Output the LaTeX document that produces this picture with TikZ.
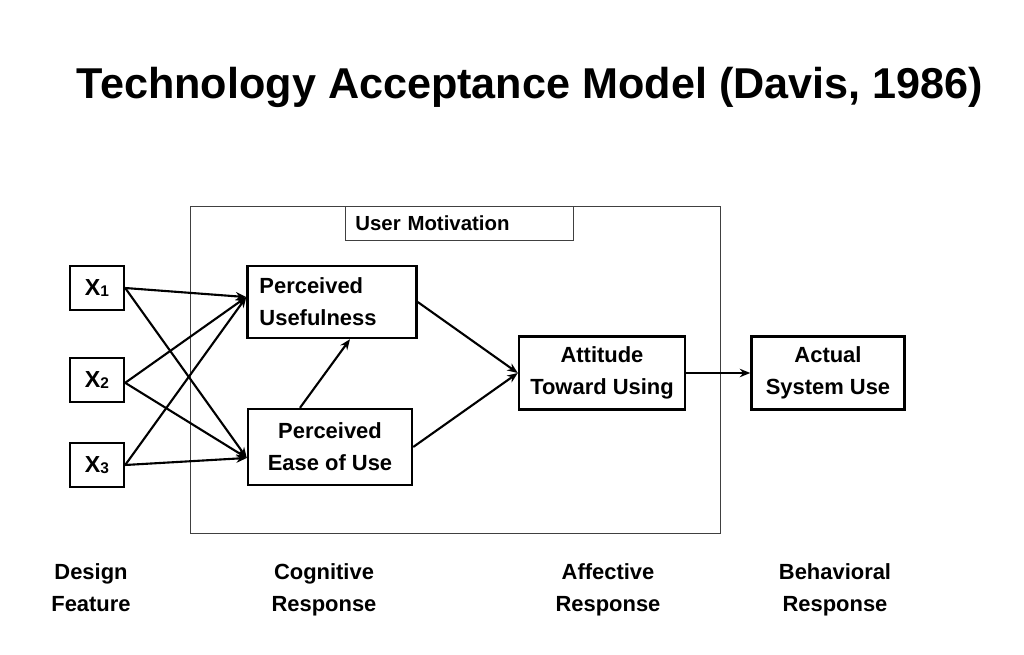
\documentclass[tikz,border=0pt]{standalone}
\usepackage{fontspec}
\setmainfont{Liberation Sans}
\usetikzlibrary{arrows.meta}
\tikzset{>={Stealth[length=7.5pt,width=6pt]}}
\tikzset{
  box/.style={draw, line width=1.7pt, inner sep=0pt, align=center,
    font=\fontsize{15.6}{22.7}\selectfont\bfseries},
  xbox/.style={box, minimum width=1.35cm, minimum height=1.1cm,
    font=\fontsize{16.5}{18}\selectfont\bfseries},
  stage/.style={align=center, text height=11pt, text depth=3.5pt,
    font=\fontsize{15.6}{22.7}\selectfont\bfseries},
  link/.style={->, line width=1.5pt}
}
\newcommand{\xsub}[1]{X\raisebox{-1pt}{\fontsize{11}{11}\selectfont #1}}

\begin{document}
\begin{tikzpicture}[x=0.025cm, y=-0.025cm]
    \useasboundingbox (0,0) rectangle (1024,655);

    % Title
    \node[font=\fontsize{30.7}{34}\selectfont\bfseries] (title) at (530,87) {Technology Acceptance Model (Davis, 1986)};

    % Frame for user motivation
    \draw[line width=0.6pt, black!75] (190,206) rectangle (720,533);
    \node[draw, line width=0.6pt, black!75, anchor=north west, inner xsep=0.25cm, inner ysep=0pt,
      text width=5.2cm, minimum height=0.85cm, align=left, text=black,
      font=\fontsize{14.5}{17}\selectfont\bfseries] (motiv) at (345,206) {User Motivation};

    % Design features
    \node[xbox] (x1) at (97,288) {\xsub{1}};
    \node[xbox] (x2) at (97,380) {\xsub{2}};
    \node[xbox] (x3) at (97,465) {\xsub{3}};

    % Beliefs, attitude and use
    \node[box, minimum height=1.8cm, text width=3.625cm, inner xsep=0.3cm, align=left] (pu) at (332,302) {Perceived\\Usefulness};
    \node[box, minimum width=4.1cm, minimum height=1.9cm] (peou) at (330,447) {Perceived\\Ease of Use};
    \node[box, minimum width=4.15cm, minimum height=1.825cm] (atu) at (602,373) {Attitude\\Toward Using};
    \node[box, minimum width=3.825cm, minimum height=1.825cm] (asu) at (828,373) {Actual\\System Use};

    % Arrow ends
    \coordinate (puin) at ([yshift=3.5pt]pu.west);
    \coordinate (peouin) at ([yshift=-7.8pt]peou.west);

    % Arrows
    \draw[link] (x1.east) -- (puin);
    \draw[link] (x1.east) -- (peouin);
    \draw[link] ([yshift=-2pt]x2.east) -- (puin);
    \draw[link] ([yshift=-2pt]x2.east) -- (peouin);
    \draw[link] (x3.east) -- (puin);
    \draw[link] (x3.east) -- (peouin);
    \draw[link] ([xshift=-0.75cm]peou.north) -- ([xshift=0.45cm]pu.south);
    \draw[link] (pu.east) -- (atu.west);
    \draw[link] (peou.east) -- (atu.west);
    \draw[link] (atu.east) -- (asu.west);

    % Stage labels
    \node[stage] (design) at (91,606) {Design\\Feature};
    \node[stage] (cognitive) at (324,606) {Cognitive\\Response};
    \node[stage] (affective) at (608,606) {Affective\\Response};
    \node[stage] (behavioral) at (835,606) {Behavioral\\Response};

\end{tikzpicture}
\end{document}
